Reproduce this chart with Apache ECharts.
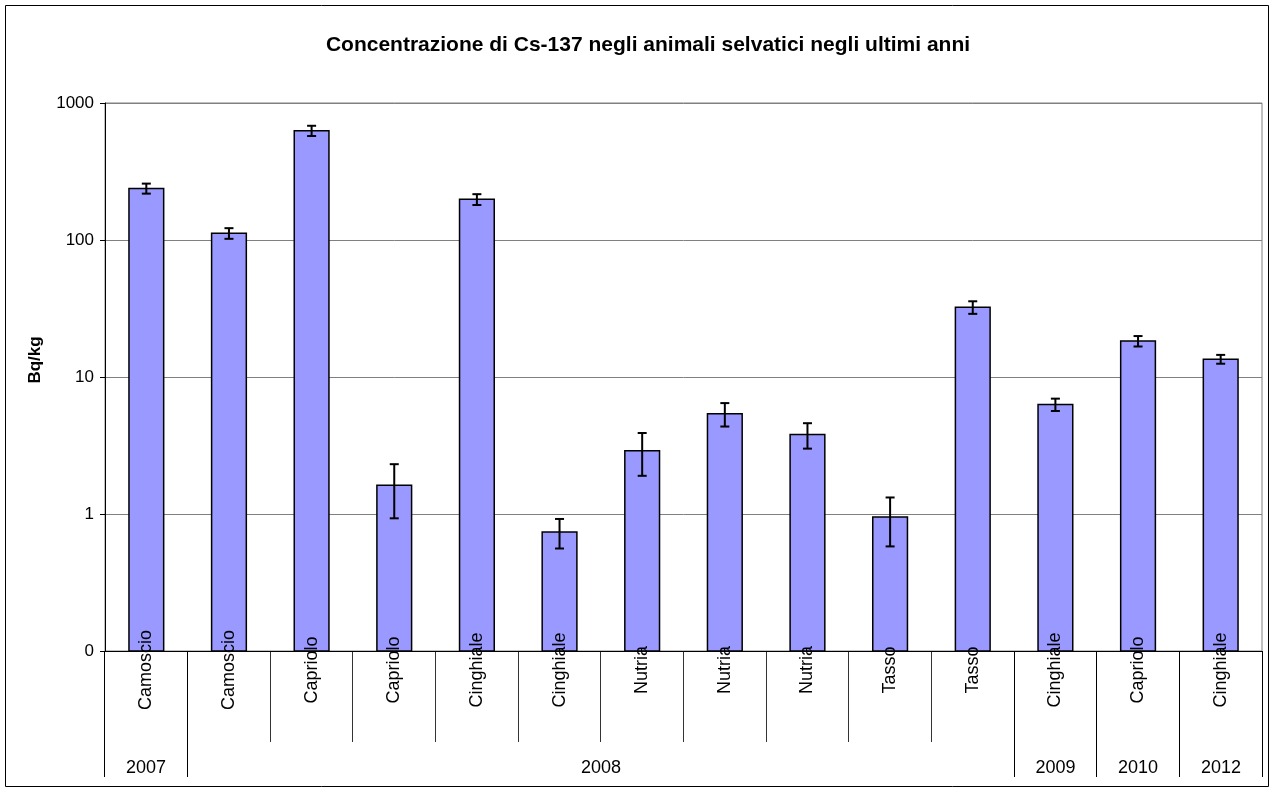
<!DOCTYPE html>
<html>
<head>
<meta charset="utf-8">
<title>Cs-137 negli animali selvatici</title>
<script src="https://cdn.jsdelivr.net/npm/echarts@6/dist/echarts.min.js"></script>
<style>
  html, body { margin: 0; padding: 0; background: #fff; }
  #chart { width: 1276px; height: 792px; }
</style>
</head>
<body>
<div id="chart"></div>
<script>
// Species sampled, one bar per sample group
const categories = ['Camoscio', 'Camoscio', 'Capriolo', 'Capriolo', 'Cinghiale', 'Cinghiale',
  'Nutria', 'Nutria', 'Nutria', 'Tasso', 'Tasso', 'Cinghiale', 'Capriolo', 'Cinghiale'];
// Mean Cs-137 concentration (Bq/kg)
const values = [238, 112, 628, 1.62, 198, 0.74, 2.9, 5.4, 3.8, 0.95, 32.3, 6.3, 18.3, 13.5];
// Measurement uncertainty (Bq/kg, symmetric)
const errors = [20, 10, 54, 0.69, 18, 0.18, 1.0, 1.05, 0.8, 0.37, 3.4, 0.65, 1.6, 1.0];
// Year groups: label and first/last category index
const years = ['2007', '2008', '2009', '2010', '2012'];
const yearStart = [0, 1, 11, 12, 13];
const yearEnd = [0, 10, 11, 12, 13];
// Value axis tick labels
const yTickValues = [0.1, 1, 10, 100, 1000];
const yTickLabels = ['0', '1', '10', '100', '1000'];

const Y_MIN = 0.1;
const Y_MAX = 1000;
const FONT = "'Liberation Sans', Arial, sans-serif";

const chart = echarts.init(document.getElementById('chart'), null, { renderer: 'canvas' });

function bandWidth(api) {
  return api.coord([1, 1])[0] - api.coord([0, 1])[0];
}

function crisp(x) {
  return Math.round(x - 0.5) + 0.5;
}

function tickLabel(v) {
  for (let i = 0; i < yTickValues.length; i++) {
    if (Math.abs(Math.log10(v) - Math.log10(yTickValues[i])) < 1e-6) return yTickLabels[i];
  }
  return '';
}

const option = {
  animation: false,
  backgroundColor: '#ffffff',
  title: {
    text: 'Concentrazione di Cs-137 negli animali selvatici negli ultimi anni',
    left: 643,
    textAlign: 'center',
    top: 30,
    textStyle: { fontFamily: FONT, fontSize: 21, fontWeight: 'bold', color: '#000' }
  },
  graphic: [{
    type: 'rect',
    shape: { x: 5.5, y: 5.5, width: 1263, height: 781 },
    style: { fill: null, stroke: '#000', lineWidth: 1 },
    silent: true
  }],
  grid: {
    left: 105, right: 14, top: 103, bottom: 141,
    show: true, borderColor: '#808080', borderWidth: 1, backgroundColor: 'transparent'
  },
  xAxis: {
    type: 'category',
    data: categories,
    boundaryGap: true,
    z: 5,
    axisLine: { show: true, lineStyle: { color: '#000', width: 1 } },
    axisTick: { show: false },
    axisLabel: {
      interval: 0,
      rotate: 90,
      align: 'center',
      verticalAlign: 'middle',
      margin: 19,
      fontFamily: FONT,
      fontSize: 18,
      color: '#000'
    },
    splitLine: { show: false }
  },
  yAxis: {
    type: 'log',
    logBase: 10,
    min: Y_MIN,
    max: Y_MAX,
    interval: 1,
    name: 'Bq/kg',
    nameLocation: 'middle',
    nameGap: 61,
    nameTextStyle: {
      fontFamily: FONT, fontSize: 17, fontWeight: 'bold', color: '#000',
      padding: [0, 0, 0, 34]
    },
    axisLine: { show: true, lineStyle: { color: '#000', width: 1 } },
    axisTick: { show: true, inside: false, length: 5, lineStyle: { color: '#000' } },
    axisLabel: {
      margin: 11,
      fontFamily: FONT,
      fontSize: 17,
      color: '#000',
      formatter: tickLabel
    },
    splitLine: { show: true, lineStyle: { color: '#808080', width: 1 } },
    minorTick: { show: false },
    minorSplitLine: { show: false }
  },
  series: [
    {
      // Bars rising from the bottom of the log axis
      type: 'custom',
      name: 'Cs-137',
      z: 2,
      clip: false,
      encode: { x: 0, y: 1 },
      data: values.map((v, i) => [i, v]),
      renderItem: function (params, api) {
        const i = api.value(0);
        const top = api.coord([i, api.value(1)]);
        const base = api.coord([i, Y_MIN]);
        const w = bandWidth(api) * 0.42;
        return {
          type: 'rect',
          shape: { x: top[0] - w / 2, y: top[1], width: w, height: base[1] - top[1] },
          style: { fill: '#9999ff', stroke: '#000', lineWidth: 1.5 }
        };
      }
    },
    {
      // Error bars: value ± uncertainty
      type: 'custom',
      name: 'errore',
      z: 3,
      clip: false,
      encode: { x: 0, y: [1, 2] },
      data: values.map((v, i) => [i, v + errors[i], v - errors[i]]),
      renderItem: function (params, api) {
        const i = api.value(0);
        const hi = api.coord([i, api.value(1)]);
        const lo = api.coord([i, api.value(2)]);
        const cap = 4.5;
        const st = { stroke: '#000', lineWidth: 2 };
        return {
          type: 'group',
          children: [
            { type: 'line', shape: { x1: hi[0], y1: hi[1], x2: lo[0], y2: lo[1] }, style: st },
            { type: 'line', shape: { x1: hi[0] - cap, y1: hi[1], x2: hi[0] + cap, y2: hi[1] }, style: st },
            { type: 'line', shape: { x1: lo[0] - cap, y1: lo[1], x2: lo[0] + cap, y2: lo[1] }, style: st }
          ]
        };
      }
    },
    {
      // Two-level category axis: category separators inside each year group,
      // longer separators at the group edges, and the year label below
      type: 'custom',
      name: 'anni',
      z: 5,
      clip: false,
      silent: true,
      encode: { x: [0, 1], y: 2 },
      data: years.map((y, k) => [yearStart[k], yearEnd[k], Y_MIN]),
      renderItem: function (params, api) {
        const band = bandWidth(api);
        const first = api.value(0);
        const last = api.value(1);
        const s = api.coord([first, Y_MIN]);
        const e = api.coord([last, Y_MIN]);
        const x0 = crisp(s[0] - band / 2);
        const x1 = crisp(e[0] + band / 2);
        const y0 = s[1];
        const edge = { stroke: '#000', lineWidth: 1 };
        const inner = { stroke: '#333', lineWidth: 1 };
        const children = [
          { type: 'line', shape: { x1: x0, y1: y0, x2: x0, y2: y0 + 126 }, style: edge },
          { type: 'line', shape: { x1: x1, y1: y0, x2: x1, y2: y0 + 126 }, style: edge },
          {
            type: 'text',
            style: {
              x: (x0 + x1) / 2, y: y0 + 117,
              text: years[params.dataIndex],
              align: 'center', verticalAlign: 'middle',
              font: '18px ' + FONT, fill: '#000'
            }
          }
        ];
        for (let c = first + 1; c <= last; c++) {
          const xc = crisp(api.coord([c, Y_MIN])[0] - band / 2);
          children.push({ type: 'line', shape: { x1: xc, y1: y0, x2: xc, y2: y0 + 91 }, style: inner });
        }
        return { type: 'group', children: children };
      }
    }
  ]
};

chart.setOption(option);
</script>
</body>
</html>
